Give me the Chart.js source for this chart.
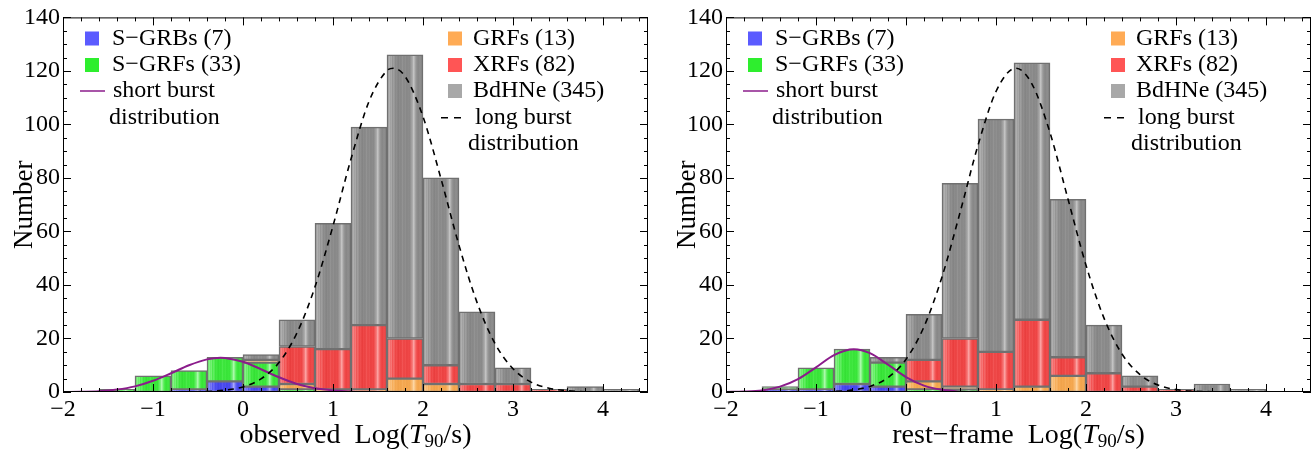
<!DOCTYPE html>
<html>
<head>
<meta charset="utf-8">
<script src="https://cdn.jsdelivr.net/npm/chart.js@4.4.1/dist/chart.umd.min.js"></script>
<style>
  html, body { margin: 0; padding: 0; background: #fff; }
  #wrap { position: relative; width: 1312px; height: 450px; }
  .panel { position: absolute; top: 0; width: 656px; height: 450px; }
</style>
</head>
<body>
<div id="wrap">
  <div class="panel" style="left:0"><canvas id="obs"></canvas></div>
  <div class="panel" style="left:656px"><canvas id="rest"></canvas></div>
</div>
<script>
// ---- histogram bins (log T90, width 0.4) ----
const binCenters = [-1.8, -1.4, -1.0, -0.6, -0.2, 0.2, 0.6, 1.0, 1.4, 1.8, 2.2, 2.6, 3.0, 3.4, 3.8, 4.2];
const binWidth = 0.4;
const seriesNames = ['S−GRBs', 'S−GRFs', 'GRFs', 'XRFs', 'BdHNe'];

// observed T90 counts per bin
const obsSGRBs = [0, 0, 0, 1, 4, 2, 0, 0, 0, 0, 0, 0, 0, 0, 0, 0];
const obsSGRFs = [0, 1, 6, 7, 9, 9, 1, 0, 0, 0, 0, 0, 0, 0, 0, 0];
const obsGRFs  = [0, 0, 0, 0, 0, 1, 2, 1, 1, 5, 3, 0, 0, 0, 0, 0];
const obsXRFs  = [0, 0, 0, 0, 0, 0, 14, 15, 24, 15, 7, 3, 3, 1, 0, 0];
const obsBdHNe = [0, 0, 0, 0, 0, 2, 10, 47, 74, 106, 70, 27, 6, 0, 2, 1];

// rest-frame T90 counts per bin
const restSGRBs = [0, 1, 1, 3, 2, 0, 0, 0, 0, 0, 0, 0, 0, 0, 0, 0];
const restSGRFs = [0, 1, 8, 13, 9, 1, 1, 0, 0, 0, 0, 0, 0, 0, 0, 0];
const restGRFs  = [0, 0, 0, 0, 0, 3, 1, 1, 2, 6, 0, 0, 0, 0, 0, 0];
const restXRFs  = [0, 0, 0, 0, 0, 8, 18, 14, 25, 7, 7, 2, 1, 0, 0, 0];
const restBdHNe = [0, 0, 0, 0, 2, 17, 58, 87, 96, 59, 18, 4, 0, 3, 1, 0];

// fitted distributions (sampled points)
const obsShortX = [-2.0, -1.8, -1.6, -1.4, -1.2, -1.0, -0.8, -0.6, -0.4, -0.25, -0.2, 0.0, 0.2, 0.4, 0.6, 0.8, 1.0, 1.2, 1.4, 1.6, 4.5];
const obsShortY = [0.0, 0.1, 0.3, 0.9, 2.1, 4.2, 7.0, 10.0, 12.2, 12.8, 12.7, 11.3, 8.5, 5.5, 3.0, 1.4, 0.6, 0.2, 0.1, 0, 0];
const obsLongX = [-2.0, -0.8, -0.6, -0.4, -0.2, 0.0, 0.2, 0.4, 0.6, 0.8, 1.0, 1.2, 1.4, 1.6, 1.67, 1.8, 2.0, 2.2, 2.4, 2.6, 2.8, 3.0, 3.2, 3.4, 3.6, 3.8, 4.0, 4.5];
const obsLongY = [0, 0, 0.1, 0.2, 0.7, 1.9, 4.9, 11.0, 22.1, 39.3, 62.1, 87.1, 108.6, 120.1, 121.0, 118.0, 102.9, 79.7, 54.8, 33.5, 18.1, 8.7, 3.7, 1.4, 0.5, 0.1, 0, 0];

const restShortX = [-2.0, -1.8, -1.6, -1.4, -1.2, -1.0, -0.8, -0.58, -0.4, -0.2, 0.0, 0.2, 0.4, 0.6, 0.8, 1.0, 4.5];
const restShortY = [0.03, 0.15, 0.6, 2.0, 4.8, 9.2, 13.8, 16.0, 14.5, 10.2, 5.6, 2.4, 0.8, 0.2, 0.04, 0, 0];
const restLongX = [-2.0, -1.0, -0.8, -0.6, -0.4, -0.2, 0.0, 0.2, 0.4, 0.6, 0.8, 1.0, 1.22, 1.4, 1.6, 1.8, 2.0, 2.2, 2.4, 2.6, 2.8, 3.0, 3.2, 3.4, 3.6, 4.5];
const restLongY = [0, 0.05, 0.2, 0.7, 2.1, 5.4, 12.2, 24.4, 43.0, 67.0, 92.2, 112.3, 121.0, 115.1, 96.9, 72.1, 47.4, 27.6, 14.2, 6.5, 2.6, 0.9, 0.3, 0.1, 0, 0];

// axis ticks
const xTickValues = [-2, -1, 0, 1, 2, 3, 4];
const yTickValues = [0, 20, 40, 60, 80, 100, 120, 140];

// ---- styling ----
const SERIF = '"Liberation Serif", "Times New Roman", serif';
const schemes = [
  { base: [74, 74, 240],  light: [196, 196, 255], dark: [40, 40, 205],  key: '#5b5bff' },
  { base: [60, 232, 60],  light: [206, 255, 206], dark: [28, 196, 28],  key: '#2eee2e' },
  { base: [245, 168, 80], light: [255, 228, 190], dark: [226, 144, 56], key: '#ffab55' },
  { base: [240, 72, 72],  light: [255, 190, 190], dark: [210, 30, 30],  key: '#ff5555' },
  { base: [140, 140, 140], light: [212, 212, 212], dark: [108, 108, 108], key: '#a8a8a8' }
];
// glossy vertical striping across each bar: [offset, amount] (+ toward light, - toward dark)
const band = [[0, -0.15], [0.03, 0.2], [0.06, 0.6], [0.09, 0.25], [0.12, 0.45], [0.15, 0.1],
              [0.19, 0.3], [0.23, -0.1], [0.27, 0.05], [0.31, -0.3], [0.35, 0.0], [0.39, -0.2],
              [0.43, 0.1], [0.47, -0.15], [0.51, 0.05], [0.55, -0.2], [0.59, 0.0], [0.63, -0.1],
              [0.67, 0.2], [0.71, 0.45], [0.74, 0.8], [0.77, 0.5], [0.8, 0.2], [0.84, 0.0],
              [0.88, -0.15], [0.92, 0.05], [0.96, -0.25], [1, -0.3]];

function mix(s, t) {
  const tgt = t >= 0 ? s.light : s.dark;
  const k = Math.abs(t);
  const c = s.base.map((v, i) => Math.round(v + (tgt[i] - v) * k));
  return `rgb(${c[0]},${c[1]},${c[2]})`;
}

const sum = a => a.reduce((p, v) => p + v, 0);
const pts = (xs, ys) => xs.map((x, i) => ({ x, y: ys[i] }));
const fmt = v => String(v).replace('-', '−');

// gives each bar a horizontal glossy gradient once its geometry is known
const gloss = {
  id: 'gloss',
  beforeDatasetsDraw(chart) {
    const ctx = chart.ctx;
    chart.data.datasets.forEach((ds, di) => {
      if (ds.type !== 'bar') return;
      const s = schemes[ds.schemeIndex];
      chart.getDatasetMeta(di).data.forEach(el => {
        if (!isFinite(el.x) || !isFinite(el.width) || !el.options) return;
        const g = ctx.createLinearGradient(el.x - el.width / 2, 0, el.x + el.width / 2, 0);
        band.forEach(([o, t]) => g.addColorStop(o, mix(s, t)));
        el.options.backgroundColor = g;
      });
    });
  }
};

// frame with inward ticks on all four sides, legend and axis titles
const decor = {
  id: 'decor',
  afterDatasetsDraw(chart) {
    const { ctx, chartArea: a, scales: { x, y } } = chart;
    ctx.save();
    ctx.strokeStyle = '#000';
    ctx.lineWidth = 1;
    ctx.strokeRect(a.left + 0.5, a.top + 0.5, a.right - a.left - 1, a.bottom - a.top - 1);
    ctx.beginPath();
    for (let k = -20; k <= 45; k += 2) {
      const px = Math.round(x.getPixelForValue(k / 10)) + 0.5;
      const len = k % 10 === 0 ? 8 : 4;
      ctx.moveTo(px, a.bottom); ctx.lineTo(px, a.bottom - len);
      ctx.moveTo(px, a.top); ctx.lineTo(px, a.top + len);
    }
    for (let v = 0; v <= 140; v += 5) {
      const py = Math.round(y.getPixelForValue(v)) + 0.5;
      const len = v % 20 === 0 ? 8 : 4;
      ctx.moveTo(a.left, py); ctx.lineTo(a.left + len, py);
      ctx.moveTo(a.right, py); ctx.lineTo(a.right - len, py);
    }
    ctx.stroke();
    ctx.restore();
  },
  afterDraw(chart, args, opts) {
    const { ctx, chartArea: a } = chart;
    ctx.save();
    ctx.fillStyle = '#000';
    ctx.textBaseline = 'middle';
    ctx.textAlign = 'left';
    ctx.font = `24px ${SERIF}`;
    const L = a.left;
    const rows = [38.5, 65, 91, 117.7, 143.3];
    const labels = opts.series.map((arr, i) => `${seriesNames[i]} (${sum(arr)})`);
    // left column
    [0, 1].forEach((i, r) => {
      ctx.fillStyle = schemes[i].key;
      ctx.fillRect(L + 22, rows[r] - 7, 14, 14);
      ctx.fillStyle = '#000';
      ctx.fillText(labels[i], L + 49, rows[r]);
    });
    ctx.strokeStyle = '#8b1c8b';
    ctx.lineWidth = 1.5;
    ctx.beginPath(); ctx.moveTo(L + 17, rows[2]); ctx.lineTo(L + 42, rows[2]); ctx.stroke();
    ctx.fillText('short burst', L + 50, rows[2]);
    ctx.fillText('distribution', L + 46, rows[3]);
    // right column
    [2, 3, 4].forEach((i, r) => {
      ctx.fillStyle = schemes[i].key;
      ctx.fillRect(L + 385, rows[r] - 7, 14, 14);
      ctx.fillStyle = '#000';
      ctx.fillText(labels[i], L + 410, rows[r]);
    });
    ctx.strokeStyle = '#000';
    ctx.lineWidth = 1.5;
    ctx.beginPath();
    ctx.moveTo(L + 378, rows[3]); ctx.lineTo(L + 385, rows[3]);
    ctx.moveTo(L + 391, rows[3]); ctx.lineTo(L + 398, rows[3]);
    ctx.stroke();
    ctx.fillText('long burst', L + 412, rows[3]);
    ctx.fillText('distribution', L + 405, rows[4]);

    // x-axis title with italic T and subscript 90
    const parts = [
      { t: opts.xPrefix + '  Log(', f: `28px ${SERIF}`, dy: 0 },
      { t: 'T', f: `italic 28px ${SERIF}`, dy: 0 },
      { t: '90', f: `19px ${SERIF}`, dy: 6 },
      { t: '/s)', f: `28px ${SERIF}`, dy: 0 }
    ];
    let w = 0;
    parts.forEach(p => { ctx.font = p.f; p.w = ctx.measureText(p.t).width; w += p.w; });
    let cx = (a.left + a.right) / 2 - w / 2;
    const ty = 436;
    parts.forEach(p => { ctx.font = p.f; ctx.fillText(p.t, cx, ty + p.dy); cx += p.w; });

    // y-axis title
    ctx.font = `27px ${SERIF}`;
    ctx.textAlign = 'center';
    ctx.translate(a.left - 38, (a.top + a.bottom) / 2);
    ctx.rotate(-Math.PI / 2);
    ctx.fillText('Number', 0, 0);
    ctx.restore();
  }
};

function makeChart(id, series, shortX, shortY, longX, longY, xPrefix, yWidth, padRight) {
  const bars = series.map((arr, i) => ({
    type: 'bar',
    label: seriesNames[i],
    schemeIndex: i,
    data: pts(binCenters, arr),
    stack: 'hist',
    order: 2,
    backgroundColor: (c) => mix(schemes[i], 0),
    borderColor: '#707070',
    borderWidth: 1.5,
    borderSkipped: false,
    barPercentage: 1,
    categoryPercentage: 1
  }));
  const lines = [
    { type: 'line', label: 'short burst distribution', data: pts(shortX, shortY), stack: 'short', order: 1,
      borderColor: '#8b1c8b', borderWidth: 2, pointRadius: 0, cubicInterpolationMode: 'monotone', fill: false },
    { type: 'line', label: 'long burst distribution', data: pts(longX, longY), stack: 'long', order: 0,
      borderColor: '#000', borderWidth: 1.6, borderDash: [6, 5], pointRadius: 0, cubicInterpolationMode: 'monotone', fill: false }
  ];
  const tickFont = { family: SERIF, size: 24 };
  return new Chart(document.getElementById(id), {
    data: { datasets: [...bars, ...lines] },
    options: {
      responsive: true,
      maintainAspectRatio: false,
      animation: false,
      layout: { padding: { top: 15, right: padRight, left: 0, bottom: 0 } },
      plugins: { legend: { display: false }, tooltip: { enabled: false }, decor: { series, xPrefix } },
      scales: {
        x: {
          type: 'linear', min: -2, max: 4.5, offset: false,
          grid: { display: false, drawTicks: false }, border: { display: false },
          ticks: { font: tickFont, color: '#000', padding: 3, maxRotation: 0, autoSkip: false, callback: fmt },
          afterBuildTicks: s => { s.ticks = xTickValues.map(v => ({ value: v })); },
          afterFit: s => { s.height = 58; }
        },
        y: {
          type: 'linear', min: 0, max: 140, stacked: true,
          grid: { display: false, drawTicks: false }, border: { display: false },
          ticks: { font: tickFont, color: '#000', padding: 3, callback: fmt },
          afterBuildTicks: s => { s.ticks = yTickValues.map(v => ({ value: v })); },
          afterFit: s => { s.width = yWidth; }
        }
      }
    },
    plugins: [gloss, decor]
  });
}

makeChart('obs', [obsSGRBs, obsSGRFs, obsGRFs, obsXRFs, obsBdHNe],
  obsShortX, obsShortY, obsLongX, obsLongY, 'observed', 63, 8);
makeChart('rest', [restSGRBs, restSGRFs, restGRFs, restXRFs, restBdHNe],
  restShortX, restShortY, restLongX, restLongY, 'rest−frame', 70, 1);
</script>
</body>
</html>
